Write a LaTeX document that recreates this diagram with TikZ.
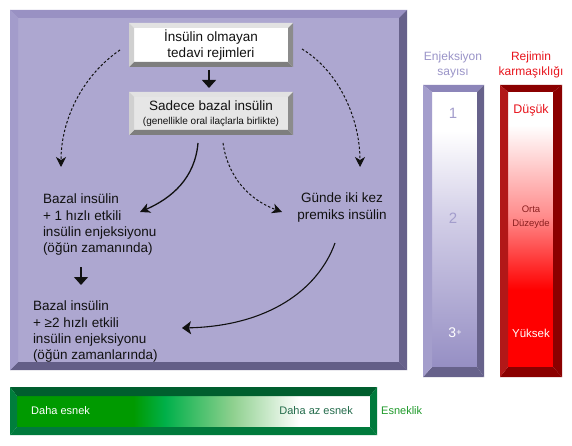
\documentclass[tikz,border=0pt]{standalone}
\usepackage{fontspec}
\setmainfont{Liberation Sans}
\usetikzlibrary{arrows.meta,calc}
\definecolor{panT}{HTML}{9991C3}
\definecolor{panL}{HTML}{A39CCB}
\definecolor{panR}{HTML}{67628B}
\definecolor{panB}{HTML}{635E87}
\definecolor{panF}{HTML}{ADA7D0}
\definecolor{ebT}{HTML}{8C85B9}
\definecolor{ebL}{HTML}{A49ECC}
\definecolor{ebR}{HTML}{67628B}
\definecolor{lavB}{HTML}{968FC4}
\definecolor{lavMid}{HTML}{D2CEE7}
\definecolor{rbT}{HTML}{8B0000}
\definecolor{rbL}{HTML}{B21818}
\definecolor{rbR}{HTML}{8B0000}
\definecolor{redF}{HTML}{FF0000}
\definecolor{pinkM}{HTML}{FF8C8C}
\definecolor{gbT}{HTML}{005E2E}
\definecolor{gbL}{HTML}{007E3C}
\definecolor{gbR}{HTML}{007A3C}
\definecolor{gA}{HTML}{009A00}
\definecolor{gB}{HTML}{00B04A}
\definecolor{gC}{HTML}{8ED08E}
\definecolor{bxT}{HTML}{E2E2E2}
\definecolor{bxL}{HTML}{D0D0D0}
\definecolor{bxR}{HTML}{8C8C8C}
\definecolor{bxB}{HTML}{7E7E7E}
\definecolor{bxG}{HTML}{E6E6E6}
\definecolor{lavT}{HTML}{9A94C8}
\definecolor{lavN}{HTML}{A39DCC}
\definecolor{redT}{HTML}{E8141C}
\definecolor{orta}{HTML}{8B2020}
\definecolor{azT}{HTML}{236B4B}
\definecolor{esT}{HTML}{1F9A2A}
\definecolor{ink}{HTML}{111111}
\pgfdeclareverticalshading{lavshade}{100bp}{color(0bp)=(lavB); color(25bp)=(lavB); color(52bp)=(lavMid); color(68bp)=(white); color(100bp)=(white)}
\pgfdeclareverticalshading{redshade}{100bp}{color(0bp)=(redF); color(39bp)=(redF); color(52.5bp)=(pinkM); color(69bp)=(white); color(100bp)=(white)}
\pgfdeclarehorizontalshading{greenshade}{100bp}{color(0bp)=(gA); color(41.5bp)=(gA); color(46bp)=(gB); color(55.5bp)=(gC); color(65bp)=(white); color(100bp)=(white)}
% bevel: node, l, t, r, b, ctop, cleft, cright, cbottom
\newcommand\bev[9]{%
  \fill[#6] (#1.north west) -- (#1.north east) -- ($(#1.north east)+(-#4,#3)$) -- ($(#1.north west)+(#2,#3)$) -- cycle;
  \fill[#9] (#1.south west) -- (#1.south east) -- ($(#1.south east)+(-#4,-#5)$) -- ($(#1.south west)+(#2,-#5)$) -- cycle;
  \fill[#7] (#1.north west) -- ($(#1.north west)+(#2,#3)$) -- ($(#1.south west)+(#2,-#5)$) -- (#1.south west) -- cycle;
  \fill[#8] (#1.north east) -- (#1.south east) -- ($(#1.south east)+(-#4,-#5)$) -- ($(#1.north east)+(-#4,#3)$) -- cycle;
}
\tikzset{
  frame/.style={inner sep=0pt, outer sep=0pt},
  txt/.style={inner sep=0pt, outer sep=0pt, text=ink, font=\fontsize{13.5}{16.4}\selectfont},
  lbl/.style={inner sep=0pt, outer sep=0pt, align=center, font=\fontsize{12}{15}\selectfont},
  num/.style={inner sep=0pt, outer sep=0pt, font=\fontsize{15}{15}\selectfont},
  downarr/.style={line width=1.3pt, draw=ink, -{Triangle[width=14pt,length=8pt]}},
  dasharr/.style={line width=1pt, draw=ink, dash pattern=on 2.5pt off 2pt, -{Stealth[length=10pt,width=10pt,inset=3pt]}},
  solarr/.style={line width=1.3pt, draw=ink, -{Stealth[length=10pt,width=10pt,inset=3pt]}},
  solarrb/.style={line width=1.1pt, draw=ink, -{Stealth[length=9pt,width=13pt,inset=2pt]}}
}
\begin{document}
\begin{tikzpicture}[x=1pt,y=-1pt]
\useasboundingbox (0,0) rectangle (572,446);
\fill[white] (0,0) rectangle (572,446);
% main panel
\node[frame, fill=panF, minimum width=397pt, minimum height=360pt] (panel) at (208.5,190) {};
\bev{panel}{8}{8}{8}{8}{panT}{panL}{panR}{panB}
% box 1
\node[frame, fill=white, minimum width=164pt, minimum height=44pt, align=center, text=ink,
      font=\fontsize{13.5}{16.5}\selectfont] (b1) at (211,45) {İnsülin olmayan\\tedavi rejimleri};
\bev{b1}{5}{5}{5}{5}{bxT}{bxL}{bxR}{bxB}
% box 2
\node[frame, fill=bxG, minimum width=164pt, minimum height=43pt, align=center, text=ink,
      font=\fontsize{13.5}{14}\selectfont] (b2) at (211,113.5)
      {Sadece bazal insülin\\{\fontsize{10}{12}\selectfont (genellikle oral ilaçlarla birlikte)}};
\bev{b2}{5}{5}{5}{5}{bxT}{bxL}{bxR}{bxB}
% text nodes
\node[txt, align=left, anchor=north west] (bz1) at (43,194)
  {Bazal insülin\\+ 1 hızlı etkili\\insülin enjeksiyonu\\(öğün zamanında)};
\node[txt, align=left, anchor=north west] (bz2) at (33,301)
  {Bazal insülin\\+ ≥2 hızlı etkili\\insülin enjeksiyonu\\(öğün zamanlarında)};
\node[txt, align=center, anchor=north] (gunde) at (342,193) {Günde iki kez\\premiks insülin};
% connectors
\draw[downarr] ($(b1.south)+(-2,3)$) -- ($(b2.north)+(-2,-4)$);
\draw[downarr] ($(bz1.north west)+(38,73)$) -- ($(bz2.north west)+(48,-16)$);
\draw[dasharr] ($(b1.west)+(-9,5)$) .. controls (82,76) and (61,120) .. ($(bz1.north west)+(18,-27)$);
\draw[dasharr] ($(b1.east)+(9,4)$) .. controls (340,72) and (360,120) .. ($(gunde.north)+(18,-26)$);
\draw[solarr] ($(b2.south)+(-13,8)$) .. controls (195,178) and (172,198) .. ($(bz1.north west)+(97,18)$);
\draw[dasharr] ($(b2.south)+(12,8)$) .. controls (228,178) and (250,200) .. ($(gunde.north)+(-60,19)$);
\draw[solarrb] ($(gunde.north)+(-7,50)$) .. controls (318,290) and (268,326) .. ($(bz2.north west)+(149,27)$);
% injection bar
\node[frame, minimum width=61pt, minimum height=292pt] (ebar) at (453.5,231) {};
\shade[shading=lavshade] ($(ebar.north west)+(9,7)$) rectangle ($(ebar.south east)+(-7,-10)$);
\bev{ebar}{9}{7}{7}{10}{ebT}{ebL}{ebR}{ebR}
% complexity bar
\node[frame, minimum width=62pt, minimum height=292pt] (rbar) at (531,231) {};
\shade[shading=redshade] ($(rbar.north west)+(8,7)$) rectangle ($(rbar.south east)+(-9,-10)$);
\bev{rbar}{8}{7}{9}{10}{rbT}{rbL}{rbR}{rbR}
% flexibility bar
\node[frame, minimum width=367pt, minimum height=48pt] (gbar) at (193.5,411) {};
\shade[shading=greenshade] ($(gbar.north west)+(7,9)$) rectangle ($(gbar.south east)+(-7,-8)$);
\bev{gbar}{7}{9}{7}{8}{gbT}{gbL}{gbR}{gbR}
% labels
\node[lbl, text=lavT] (ejl) at (453,64.5) {Enjeksiyon\\sayısı};
\node[lbl, text=redT] (rjl) at (531,64.5) {Rejimin\\karmaşıklığı};
\node[num, text=lavN] (n1) at (453,113) {1};
\node[num, text=lavN] (n2) at (453,218) {2};
\node[num, text=white, font=\fontsize{14}{14}\selectfont] (n3) at (455,333) {3\raisebox{2.5pt}{\fontsize{9}{9}\selectfont +}};
\node[inner sep=0pt, text=redT, font=\fontsize{12.5}{14}\selectfont] (dus) at (531,110) {Düşük};
\node[inner sep=0pt, text=orta, align=center, font=\fontsize{9.5}{14}\selectfont] (ort) at (531,217) {Orta\\Düzeyde};
\node[inner sep=0pt, text=white, font=\fontsize{11.5}{14}\selectfont] (yuk) at (531,333) {Yüksek};
\node[inner sep=0pt, text=white, anchor=west, font=\fontsize{11}{13}\selectfont] (de) at (31,411) {Daha esnek};
\node[inner sep=0pt, text=azT, anchor=east, font=\fontsize{11}{13}\selectfont] (dae) at (353,411) {Daha az esnek};
\node[inner sep=0pt, text=esT, anchor=west, font=\fontsize{11}{13}\selectfont] (esn) at (381,411) {Esneklik};
\end{tikzpicture}
\end{document}
